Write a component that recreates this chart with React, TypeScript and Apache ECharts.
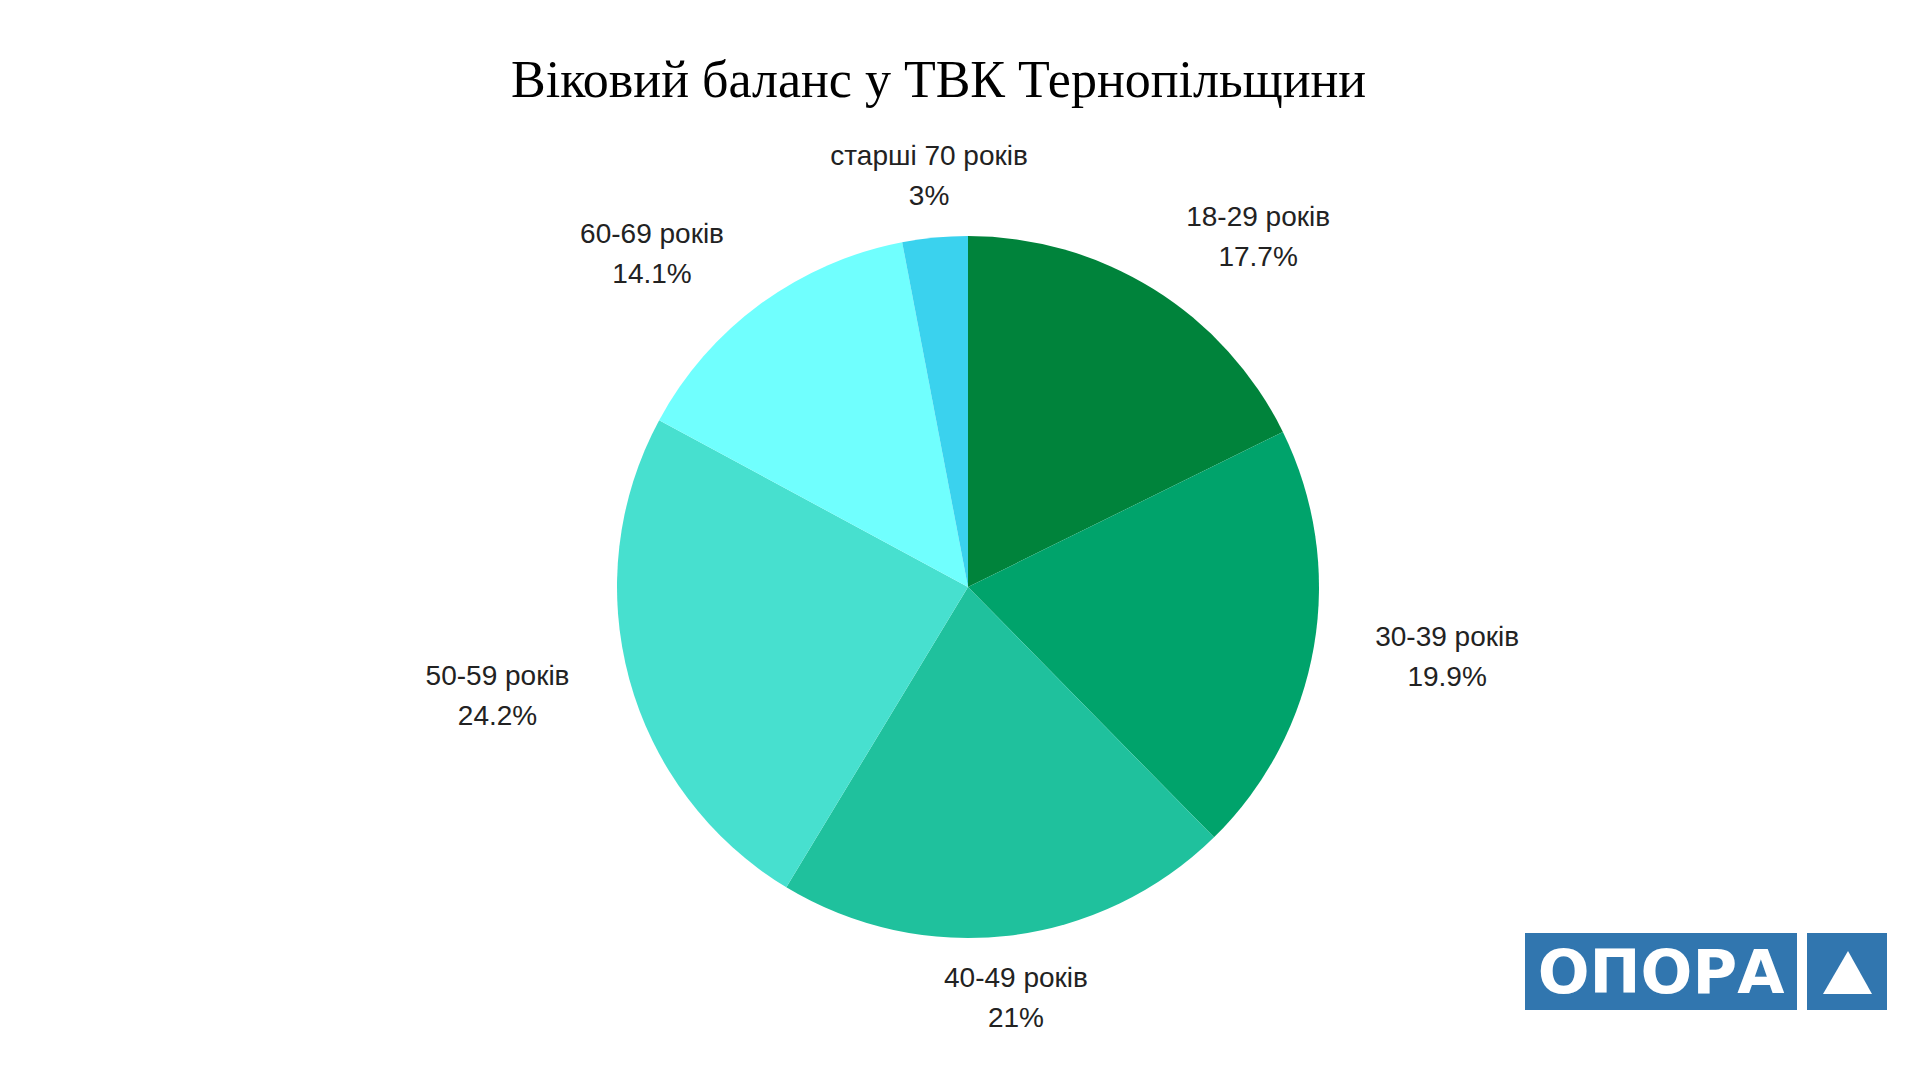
import React, { useEffect, useRef } from "react";
import * as echarts from "echarts";

const TITLE = "Віковий баланс у ТВК Тернопільщини";
const categories = ["18-29 років", "30-39 років", "40-49 років", "50-59 років", "60-69 років", "старші 70 років"];
const shares = [17.7, 19.9, 21, 24.2, 14.1, 3];
const colors = ["#00833B", "#00A36B", "#1FC19D", "#47E0CF", "#70FFFE", "#3AD2EE"];
const LOGO_TEXT = "ОПОРА";

export default function App() {
  const ref = useRef<HTMLDivElement>(null);
  useEffect(() => {
    document.body.style.margin = "0";
    if (!ref.current) return;
    const chart = echarts.init(ref.current, undefined, { renderer: "svg" });
    const total = shares.reduce((a, b) => a + b, 0);
    const midCos = (i: number) => {
      let before = 0;
      for (let k = 0; k < i; k++) before += shares[k];
      const mid = before + shares[i] / 2;
      const ang = Math.PI / 2 - (mid / total) * Math.PI * 2;
      return Math.cos(ang);
    };
    chart.setOption({
      animation: false,
      backgroundColor: "#ffffff",
      title: {
        text: TITLE,
        left: 506,
        top: 48,
        textStyle: {
          fontFamily: "Liberation Serif",
          fontSize: 52,
          fontWeight: "normal",
          color: "#000000",
        },
      },
      series: [
        {
          type: "pie",
          center: [968, 587],
          radius: 351,
          startAngle: 90,
          clockwise: true,
          avoidLabelOverlap: false,
          data: categories.map((c, i) => ({
            name: c,
            value: shares[i],
            itemStyle: { color: colors[i] },
          })),
          label: {
            show: true,
            position: "outside",
            formatter: "{b}\n{c}%",
            fontFamily: "Liberation Sans",
            fontSize: 28,
            lineHeight: 40,
            color: "#222222",
            distanceToLabelLine: 0,
          },
          labelLine: { show: false, length: 62, length2: 0 },
          labelLayout: (params: any) => {
            if (Math.abs(midCos(params.dataIndex)) < 0.2) {
              return { align: "center" };
            }
            const r = params.labelRect;
            return {
              x: r.x + r.width / 2,
              y: r.y + r.height / 2,
              align: "center",
              verticalAlign: "middle",
            };
          },
          emphasis: { disabled: true },
        },
      ],
      graphic: [
        {
          type: "rect",
          shape: { x: 1525, y: 933, width: 272, height: 77 },
          style: { fill: "#3176AF" },
        },
        {
          type: "text",
          x: 1661,
          y: 971,
          style: {
            text: LOGO_TEXT,
            fill: "#ffffff",
            font: "bold 61px 'DejaVu Sans'",
            textAlign: "center",
            textVerticalAlign: "middle",
          },
        },
        {
          type: "rect",
          shape: { x: 1807, y: 933, width: 80, height: 77 },
          style: { fill: "#3176AF" },
        },
        {
          type: "polygon",
          shape: { points: [[1848, 951], [1872, 994], [1823, 994]] },
          style: { fill: "#ffffff" },
        },
      ],
    });
    return () => chart.dispose();
  }, []);
  return <div ref={ref} style={{ width: 1920, height: 1080 }} />;
}
